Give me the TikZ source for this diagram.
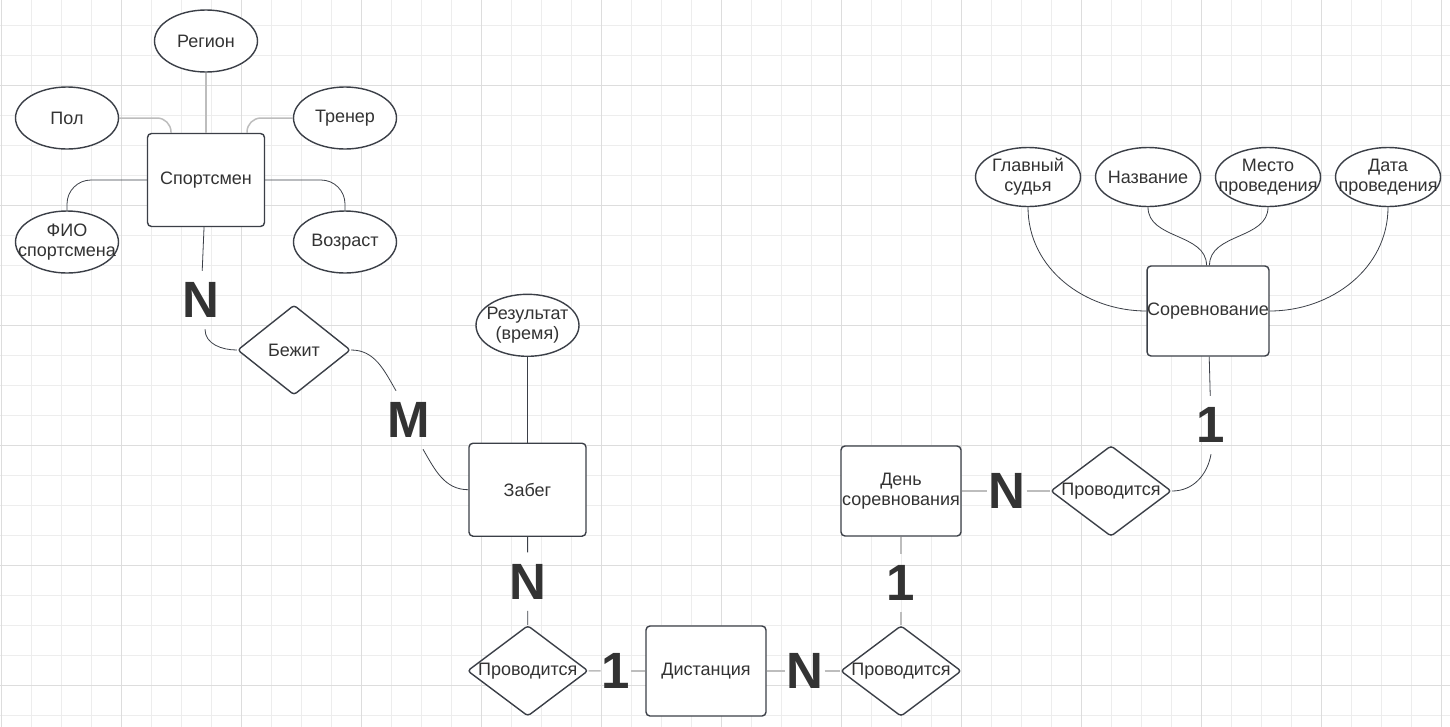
\documentclass[tikz,border=0pt]{standalone}
\usepackage{fontspec}
\setmainfont{Liberation Sans}
\usetikzlibrary{shapes.geometric}
\definecolor{txtgray}{HTML}{333333}
\definecolor{edgegray}{HTML}{3B3F47}
\definecolor{linegray}{HTML}{BDBDBD}
\definecolor{gridminor}{HTML}{EDEDED}
\definecolor{gridmajor}{HTML}{DDDDDD}
\begin{document}
\begin{tikzpicture}[x=1pt, y=-1pt, font=\fontsize{18}{20}\selectfont, text=txtgray,
	entity/.style={draw=edgegray, line width=1.4pt, fill=white, rounded corners=4pt, minimum width=117pt, minimum height=93pt, align=center, inner sep=0pt},
	attr/.style={ellipse, draw=edgegray, line width=1.4pt, fill=white, minimum width=103pt, minimum height=62pt, inner sep=0pt},
	attrtext/.style={align=center, inner sep=0pt},
	rel/.style={diamond, draw=edgegray, line width=1.4pt, fill=white, rounded corners=3pt, aspect=1.33, minimum width=117pt, minimum height=88pt, inner sep=0pt},
	card/.style={font=\fontsize{51}{51}\selectfont\bfseries, inner xsep=1pt, inner ysep=11.5pt},
	darkline/.style={draw=edgegray, line width=0.8pt},
	lightline/.style={draw=linegray, line width=1.5pt}]
	
	\useasboundingbox (0,0) rectangle (1450,726);
	\fill[white] (0,0) rectangle (1450,726);
	\begin{scope}
		\clip (0,0) rectangle (1450,726);
		\draw[gridminor, line width=0.8pt, shift={(1.7,25)}, step=30pt] (-60,760) grid (1500,-60);
		\draw[gridmajor, line width=0.8pt, shift={(1.7,85)}, step=120pt] (-240,760) grid (1560,-240);
	\end{scope}
	
	% Спортсмен
	\node[entity] (sport) at (206,180) {Спортсмен};
	\node[attr, label={[attrtext]center:Регион}] (region) at (206,41) {};
	\node[attr, label={[attrtext]center:Пол}] (pol) at (67,118) {};
	\node[attr, label={[attrtext]center:Тренер}] (coach) at (345,118) {};
	\node[attr, label={[attrtext]center:ФИО\\спортсмена}] (fio) at (67,242) {};
	\node[attr, label={[attrtext]center:Возраст}] (age) at (345,242) {};
	
	\draw[lightline] (region) -- (sport);
	\draw[lightline, rounded corners=14pt] (pol.east) -| ([xshift=-35pt]sport.north);
	\draw[lightline, rounded corners=14pt] (coach.west) -| ([xshift=41pt]sport.north);
	\draw[darkline, rounded corners=24pt] (sport.west) -| (fio.north);
	\draw[darkline, rounded corners=24pt] (sport.east) -| (age.north);
	
	% Бежит
	\node[card] (nsport) at (201,300) {N};
	\node[rel, minimum width=113pt, minimum height=90pt] (run) at (294,350) {Бежит};
	\node[card] (mrun) at (409,420) {M};
	
	\draw[darkline] (sport) -- (nsport);
	\draw[darkline] ([xshift=4pt]nsport.south) to[out=-90, in=180] (run.west);
	\draw[darkline] (run.east) to[out=0, in=120] ([xshift=-13pt]mrun.north);
	
	% Забег
	\node[entity] (race) at (527.5,489.7) {Забег};
	\node[attr, label={[attrtext]center:Результат\\(время)}] (result) at (527.5,325.3) {};
	\node[card] (nrace) at (527.7,581.7) {N};
	\node[rel] (heldA) at (527.8,670.8) {Проводится};
	
	\draw[darkline] ([xshift=14pt]mrun.south) to[out=-60, in=180] (race.west);
	\draw[darkline] (result) -- (race);
	\draw[darkline] (race) -- (nrace);
	\draw[darkline] (nrace) -- (heldA);
	
	% Дистанция
	\node[card] (onedist) at (616,671) {1};
	\node[entity, minimum width=120pt, minimum height=90pt] (dist) at (706,671) {Дистанция};
	\node[card] (ndist) at (805,671) {N};
	\node[rel] (heldB) at (901,671) {Проводится};
	
	\draw[lightline] (heldA) -- (onedist);
	\draw[lightline] (onedist) -- (dist);
	\draw[lightline] (dist) -- (ndist);
	\draw[lightline] (ndist) -- (heldB);
	
	% День соревнования
	\node[entity, minimum width=120pt, minimum height=90pt] (day) at (901,491) {День\\соревнования};
	\node[card] (oneday) at (901,583) {1};
	\node[card] (nday) at (1007,491) {N};
	\node[rel] (heldC) at (1111,491) {Проводится};
	\node[card] (onecomp) at (1211,425) {1};
	
	\draw[lightline] (day) -- (oneday);
	\draw[lightline] (oneday) -- (heldB);
	\draw[lightline] (day) -- (nday);
	\draw[lightline] (nday) -- (heldC);
	\draw[darkline] (heldC.east) to[out=0, in=-100] (onecomp.south);
	
	% Соревнование
	\node[entity, minimum width=120pt, minimum height=90pt] (comp) at (1208,311) {Соревнование};
	\node[attr, minimum width=105pt, minimum height=59pt, label={[attrtext]center:Главный\\судья}] (judge) at (1028,177) {};
	\node[attr, minimum width=105pt, minimum height=59pt, label={[attrtext]center:Название}] (title) at (1148,177) {};
	\node[attr, minimum width=105pt, minimum height=59pt, label={[attrtext]center:Место\\проведения}] (venue) at (1268,177) {};
	\node[attr, minimum width=105pt, minimum height=59pt, label={[attrtext]center:Дата\\проведения}] (date) at (1388,177) {};
	
	\draw[darkline] (comp) -- (onecomp);
	\draw[darkline] (judge.south) to[out=-90, in=180] (comp.west);
	\draw[darkline] (date.south) to[out=-90, in=0] (comp.east);
	\draw[darkline] (title.south) to[out=-90, in=90] ([xshift=-1.5pt]comp.north);
	\draw[darkline] (venue.south) to[out=-90, in=90] ([xshift=1.5pt]comp.north);
\end{tikzpicture}
\end{document}
